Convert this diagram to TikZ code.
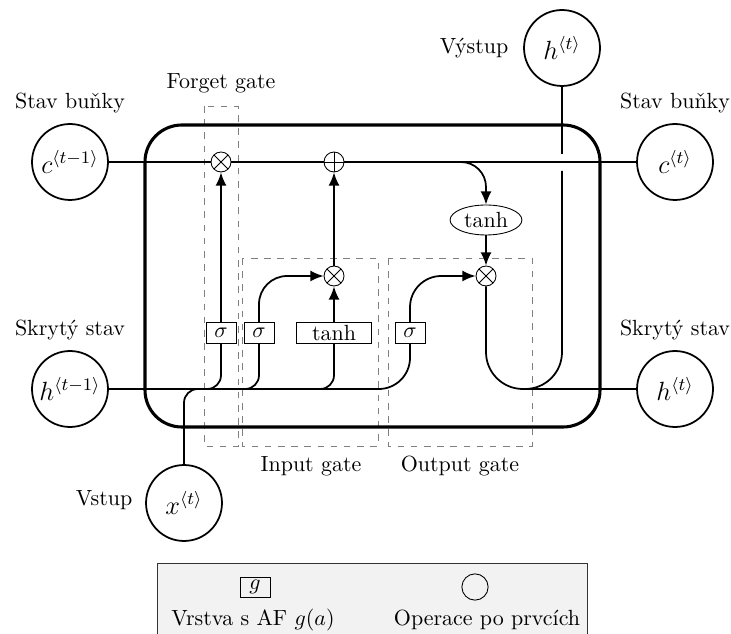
\documentclass[tikz,border=0pt]{standalone}
\usetikzlibrary{arrows.meta,shapes.geometric}
\begin{document}
\begin{tikzpicture}[x=0.016cm,y=-0.016cm,
  bigc/.style={circle,draw,thick,minimum size=1.216cm,inner sep=0pt,font=\large},
  opmul/.style={circle,draw,minimum size=0.32cm,inner sep=0pt,fill=white,
    path picture={\draw (path picture bounding box.north west)--(path picture bounding box.south east)
      (path picture bounding box.north east)--(path picture bounding box.south west);}},
  opadd/.style={circle,draw,minimum size=0.32cm,inner sep=0pt,fill=white,
    path picture={\draw (path picture bounding box.north)--(path picture bounding box.south)
      (path picture bounding box.east)--(path picture bounding box.west);}},
  layer/.style={draw,rectangle,minimum height=0.336cm,inner sep=1pt,fill=white},
  gatebox/.style={draw=gray,dashed,thin},
  conn/.style={thick},
  arr/.style={thick,-{Latex[length=6pt,width=5pt]}}
]
\useasboundingbox (0,0) rectangle (731,634);

% gate boxes
\draw[gatebox] (204,106) rectangle (238,446);
\draw[gatebox] (242,258) rectangle (378,446);
\draw[gatebox] (388,258) rectangle (532,446);
\node (lforget) at (221,83) {Forget gate};
\node (linput) at (311,466) {Input gate};
\node (loutput) at (460,466) {Output gate};

% main cell
\draw[line width=1.4pt,rounded corners=0.59cm] (145,125) rectangle (600,427);

% outer nodes
\node[bigc] (cprev) at (70,162) {$c^{\langle t-1\rangle}$};
\node[bigc] (cnext) at (675,162) {$c^{\langle t\rangle}$};
\node[bigc] (hprev) at (70,389) {$h^{\langle t-1\rangle}$};
\node[bigc] (hnext) at (675,389) {$h^{\langle t\rangle}$};
\node[bigc] (hout) at (562,48) {$h^{\langle t\rangle}$};
\node[bigc] (xin) at (184,503) {$x^{\langle t\rangle}$};
\node (lc1) at (70,103) {Stav buňky};
\node (lc2) at (675,103) {Stav buňky};
\node (lh1) at (70,330) {Skrytý stav};
\node (lh2) at (675,330) {Skrytý stav};
\node[anchor=east] (lout) at (516,48) {Výstup};
\node[anchor=east] (lin) at (140,500) {Vstup};

% inner nodes
\node[opmul] (fmul) at (221,162) {};
\node[opadd] (add) at (334,162) {};
\node[opmul] (imul) at (334,276) {};
\node[opmul] (omul) at (486,276) {};
\node[ellipse,draw,minimum width=1.15cm,minimum height=0.48cm,inner sep=0pt] (tanhc) at (486,220) {tanh};
\node[layer,minimum width=0.48cm] (fs) at (221,333) {$\sigma$};
\node[layer,minimum width=0.48cm] (is) at (259,333) {$\sigma$};
\node[layer,minimum width=1.2cm] (tb) at (334,333) {tanh};
\node[layer,minimum width=0.48cm] (os) at (410,333) {$\sigma$};

% coordinates
\coordinate (br) at (435,162);
\coordinate (hx) at (410,389);
\coordinate (fb) at (200,389);
\coordinate (ib) at (236,389);
\coordinate (tbb) at (312,389);
\coordinate (xb) at (215,389);
\coordinate (ucor) at (486,389);
\coordinate (vcor) at (562,389);
\coordinate (gapl) at (562,171);
\coordinate (gapu) at (562,154);
\coordinate (hj) at (523,389);

% cell state line
\draw[conn] (cprev) -- (fmul) -- (add) -- (cnext);
\draw[arr,rounded corners=0.4cm] (br) -| (tanhc.north);
\draw[arr] (tanhc) -- (omul);

% hidden line and branches
\draw[conn,rounded corners=0.5cm] (hprev.east) -- (hx) -- (os.south);
\draw[conn,rounded corners=0.22cm] (xin.north) |- (xb);
\draw[conn,rounded corners=0.22cm] (fb) -| (fs.south);
\draw[conn,rounded corners=0.22cm] (ib) -| (is.south);
\draw[conn,rounded corners=0.22cm] (tbb) -| (tb.south);

\draw[arr] (fs) -- (fmul);
\draw[arr,rounded corners=0.45cm] (is.north) |- (imul.west);
\draw[arr] (tb) -- (imul);
\draw[arr] (imul) -- (add);
\draw[arr,rounded corners=0.5cm] (os.north) |- (omul.west);

% output
\draw[conn,rounded corners=0.59cm] (omul.south) -- (ucor) -- (vcor) -- (gapl);
\draw[conn] (gapu) -- (hout.south);
\draw[conn] (hj) -- (hnext);

% legend
\begin{scope}
\clip (0,0) rectangle (731,634);
\draw[fill=gray!10,draw=black!80] (157,563) rectangle (587,680);
\end{scope}
\node[draw,minimum width=0.48cm,minimum height=0.32cm,inner sep=1pt] (lg) at (255,587) {$g$};
\node[circle,draw,minimum size=0.42cm,inner sep=0pt] (lo) at (475,587) {};
\node (lgt) at (253,620) {Vrstva s AF $g(a)$};
\node (lot) at (487,620) {Operace po prvcích};
\end{tikzpicture}
\end{document}
